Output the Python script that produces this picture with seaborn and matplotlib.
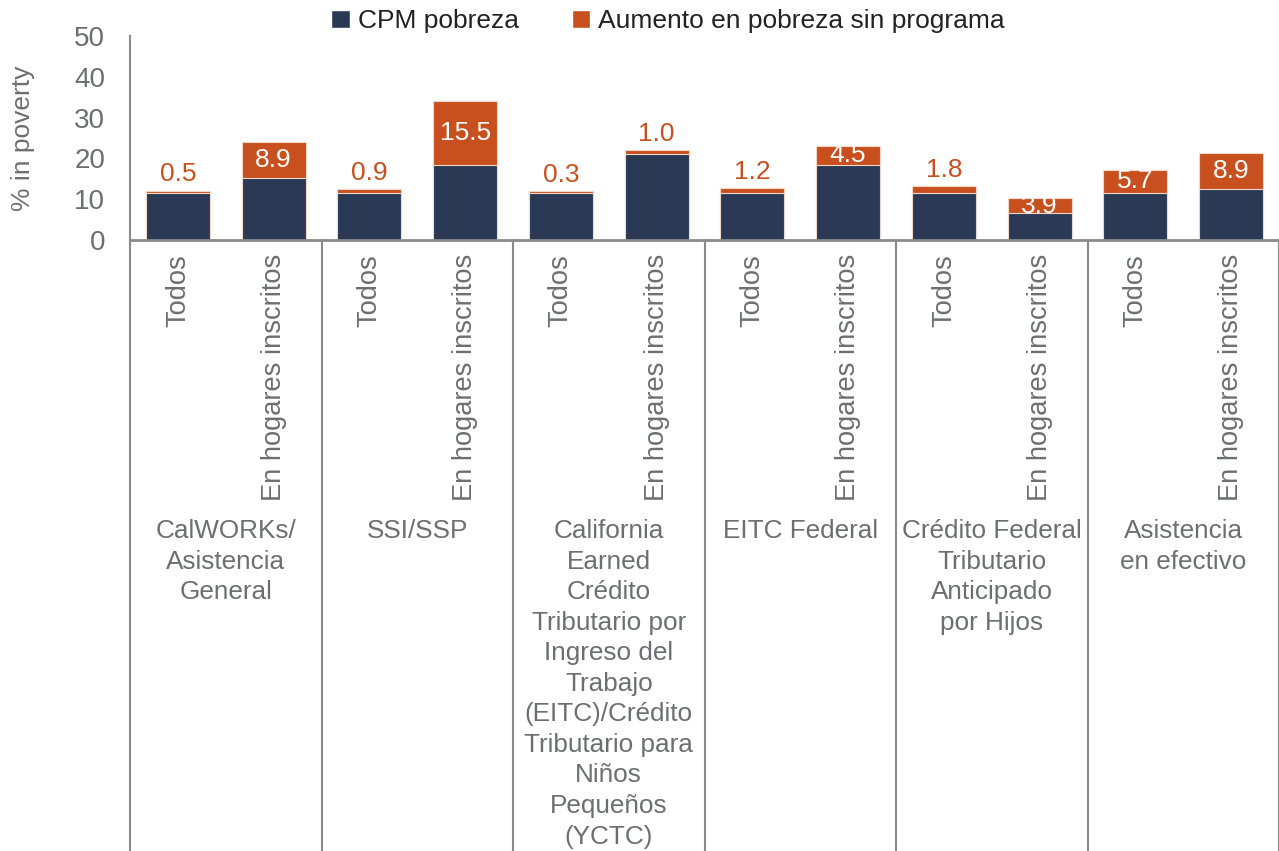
import matplotlib
matplotlib.use("Agg")
import matplotlib.pyplot as plt
import matplotlib.transforms as mtransforms
from matplotlib.patches import Patch
import seaborn as sns
import pandas as pd

groups = [
    "CalWORKs/\nAsistencia\nGeneral",
    "SSI/SSP",
    "California\nEarned\nCrédito\nTributario por\nIngreso del\nTrabajo\n(EITC)/Crédito\nTributario para\nNiños\nPequeños\n(YCTC)",
    "EITC Federal",
    "Crédito Federal\nTributario\nAnticipado\npor Hijos",
    "Asistencia\nen efectivo",
]
subgroups = ["Todos", "En hogares inscritos"]
cpm_poverty = [11.6, 15.2, 11.5, 18.5, 11.6, 21.1, 11.5, 18.5, 11.5, 6.5, 11.5, 12.4]
increase = [0.5, 8.9, 0.9, 15.5, 0.3, 1.0, 1.2, 4.5, 1.8, 3.9, 5.7, 8.9]
series_names = ["CPM pobreza", "Aumento en pobreza sin programa"]

NAVY = "#2a3a55"
ORANGE = "#c8501e"
GRAY = "#6d6e71"
LINEGRAY = "#898a8d"

sns.set_style("white")
plt.rcParams["font.family"] = ["Liberation Sans", "DejaVu Sans"]

keys = []
for g in groups:
    for s in subgroups:
        keys.append(g + "|" + s)
totals = [a + b for a, b in zip(cpm_poverty, increase)]
df = pd.DataFrame({"key": keys, "cpm": cpm_poverty, "inc": increase, "total": totals})

fig = plt.figure(figsize=(12.79, 8.51), dpi=100)
ax = fig.add_axes([130 / 1279, 1 - 240 / 851, 1 - 130 / 1279, 204 / 851])

sns.barplot(data=df, x="key", y="total", color=ORANGE, width=0.67, ax=ax,
            edgecolor="#f2d6c8", linewidth=0.8, saturation=1, order=keys)
sns.barplot(data=df, x="key", y="cpm", color=NAVY, width=0.67, ax=ax,
            edgecolor="#f2d6c8", linewidth=0.8, saturation=1, order=keys)

ax.set_xlim(-0.5, len(keys) - 0.5)
ax.set_ylim(0, 50)
ax.set_yticks([0, 10, 20, 30, 40, 50])
ax.tick_params(axis="y", length=0, labelsize=20, labelcolor=GRAY, pad=18)
ax.set_ylabel("% in poverty", fontsize=19, color=GRAY, labelpad=28)
ax.set_xlabel("")
ax.set_xticks(range(len(keys)))
ax.set_xticklabels([s for g in groups for s in subgroups], rotation=90,
                   fontsize=19.6, color=GRAY, va="top", ha="center")
ax.tick_params(axis="x", length=0, pad=10)

for sp in ["top", "right"]:
    ax.spines[sp].set_visible(False)
ax.spines["left"].set_color(LINEGRAY)
ax.spines["left"].set_linewidth(1.5)
ax.spines["bottom"].set_color(LINEGRAY)
ax.spines["bottom"].set_linewidth(2)

# data labels
for i, (c, inc) in enumerate(zip(cpm_poverty, increase)):
    label = f"{inc:.1f}"
    if inc >= 3.5:
        ax.text(i, c + inc / 2, label, ha="center", va="center", color="white", fontsize=19)
    else:
        ax.annotate(label, (i, c + inc), xytext=(0, 3), textcoords="offset points",
                    ha="center", va="bottom", color=ORANGE, fontsize=19)

# group separators below the axis
trans = mtransforms.blended_transform_factory(ax.transData, ax.transAxes)
bottom_y = -(851 - 240) / 204
for k in range(len(groups) + 1):
    xs = -0.5 + 2 * k
    ax.plot([xs, xs], [0, bottom_y], transform=trans, color=LINEGRAY, lw=1.5,
            clip_on=False)

# group labels
for k, g in enumerate(groups):
    ax.text(0.5 + 2 * k, (240 - 519) / 204, g, transform=trans, ha="center",
            va="top", fontsize=18.8, color=GRAY, linespacing=1.345)

# legend
handles = [Patch(facecolor=NAVY), Patch(facecolor=ORANGE)]
fig.legend(handles, series_names, loc="center", bbox_to_anchor=(668 / 1279, 1 - 21 / 851),
           ncol=2, frameon=False, fontsize=19, handlelength=0.7, handleheight=0.7,
           handletextpad=0.3, columnspacing=2.0, labelcolor="#222222")

fig.savefig("out.png", dpi=100)
